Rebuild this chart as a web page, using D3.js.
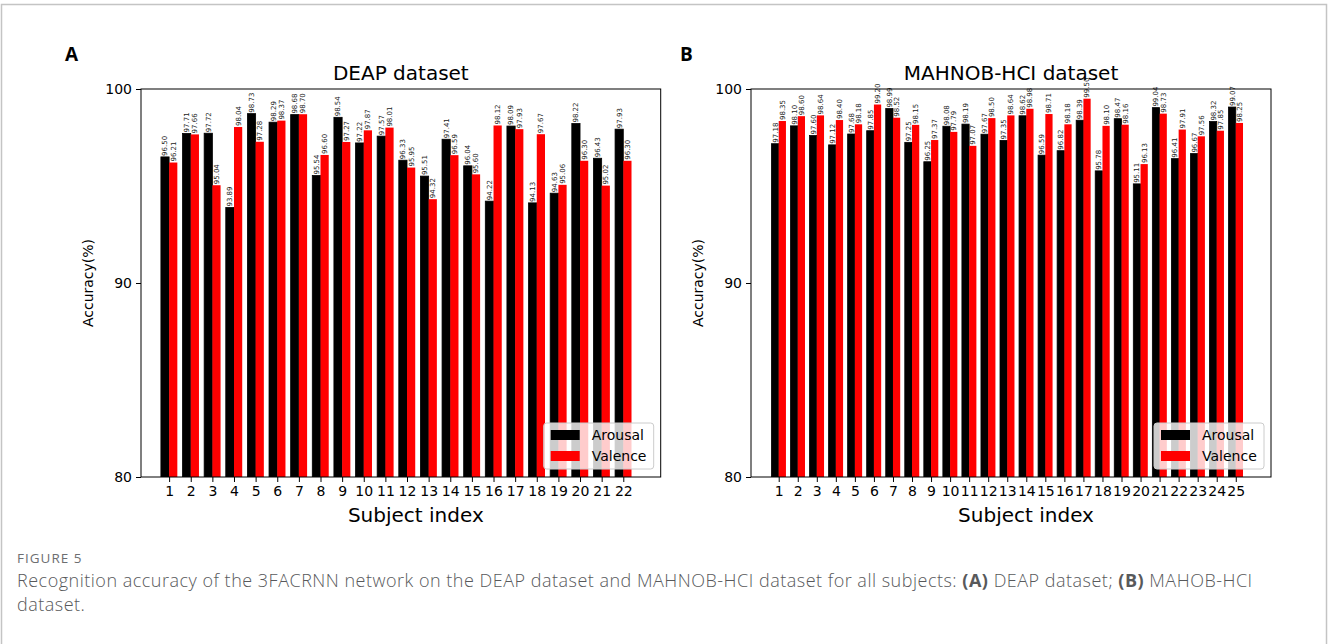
<!DOCTYPE html>
<html>
<head>
<meta charset="utf-8">
<script src="https://cdn.jsdelivr.net/npm/d3@7"></script>
<style>
  body { margin: 0; background: #fff; }
  svg { display: block; }
</style>
</head>
<body>
<div class="chart"></div>
<script>
// data
const deapSubjects = d3.range(1, 23);
const deapArousal = [96.50, 97.71, 97.72, 93.89, 98.73, 98.29, 98.68, 95.54, 98.54, 97.22, 97.57,
                     96.33, 95.51, 97.41, 96.04, 94.22, 98.09, 94.13, 94.63, 98.22, 96.43, 97.93];
const deapValence = [96.21, 97.66, 95.04, 98.04, 97.28, 98.37, 98.70, 96.60, 97.27, 97.87, 98.01,
                     95.95, 94.32, 96.59, 95.60, 98.12, 97.93, 97.67, 95.06, 96.30, 95.02, 96.30];

const mahnobSubjects = d3.range(1, 26);
const mahnobArousal = [97.18, 98.10, 97.60, 97.12, 97.68, 97.85, 98.99, 97.25, 96.25, 98.08, 98.19, 97.67, 97.35,
                       98.62, 96.59, 96.82, 98.39, 95.78, 98.47, 95.11, 99.04, 96.41, 96.67, 98.32, 99.07];
const mahnobValence = [98.35, 98.60, 98.64, 98.40, 98.18, 99.20, 98.52, 98.15, 97.37, 97.79, 97.07, 98.50, 98.64,
                       98.98, 98.71, 98.18, 99.50, 98.10, 98.16, 96.13, 98.73, 97.91, 97.56, 97.85, 98.25];

const yTicks = [80, 90, 100];
const seriesNames = ["Arousal", "Valence"];
const seriesColors = ["#000000", "#ff0000"];

// constants
const width = 1328;
const height = 644;
const font = "'DejaVu Sans', sans-serif";

const svg = d3.select(".chart").append("svg")
    .attr("width", width)
    .attr("height", height);

// outer frame
svg.append("rect")
    .attr("x", 1.5).attr("y", 4.5)
    .attr("width", width - 3).attr("height", height + 20)
    .attr("fill", "none")
    .attr("stroke", "#c4c4c4")
    .attr("stroke-width", 1.5);

function drawPanel(opts) {
    const g = svg.append("g");
    const left = opts.left, right = opts.right, top = 89, bottom = 477;

    const x = d3.scaleLinear().domain(opts.xDomain).range([left, right]);
    const y = d3.scaleLinear().domain([80, 100]).range([bottom, top]);
    const barW = 0.38;

    const clipId = "clip-" + opts.id;
    svg.append("clipPath").attr("id", clipId)
        .append("rect")
        .attr("x", left).attr("y", top)
        .attr("width", right - left).attr("height", bottom - top);

    const bars = g.append("g").attr("clip-path", "url(#" + clipId + ")");
    const series = [opts.arousal, opts.valence];

    series.forEach(function(vals, s) {
        bars.selectAll(".bar-" + s)
            .data(vals).enter()
            .append("rect")
            .attr("class", "bar-" + s)
            .attr("x", (d, i) => x(opts.subjects[i] + (s === 0 ? -barW : 0)))
            .attr("width", (d, i) => x(opts.subjects[i] + barW) - x(opts.subjects[i]))
            .attr("y", d => y(d))
            .attr("height", d => y(80) - y(d))
            .attr("fill", seriesColors[s])
            .attr("stroke", s === 0 ? "#000" : "none")
            .attr("stroke-width", 0.8);
    });

    // value labels
    series.forEach(function(vals, s) {
        g.selectAll(".lbl-" + s)
            .data(vals).enter()
            .append("text")
            .attr("transform", (d, i) => "translate(" + x(opts.subjects[i] + (s === 0 ? -barW / 2 : barW / 2)) + "," + (y(d) - 1) + ") rotate(-90)")
            .attr("dy", "0.35em")
            .attr("font-family", font)
            .attr("font-size", 7)
            .attr("fill", "#222")
            .text(d => d.toFixed(2));
    });

    // frame
    g.append("rect")
        .attr("x", left).attr("y", top)
        .attr("width", right - left).attr("height", bottom - top)
        .attr("fill", "none")
        .attr("stroke", "#000")
        .attr("stroke-width", 1);

    // x axis
    const xAxis = d3.axisBottom(x).tickValues(opts.subjects).tickFormat(d3.format("d")).tickSize(5).tickPadding(4);
    g.append("g")
        .attr("transform", "translate(0," + bottom + ")")
        .call(xAxis)
        .call(a => a.select(".domain").remove())
        .call(a => a.selectAll("text").attr("font-family", font).attr("font-size", 14).attr("fill", "#000"));

    // y axis
    const yAxis = d3.axisLeft(y).tickValues(yTicks).tickSize(5).tickPadding(4);
    g.append("g")
        .attr("transform", "translate(" + left + ",0)")
        .call(yAxis)
        .call(a => a.select(".domain").remove())
        .call(a => a.selectAll("text").attr("font-family", font).attr("font-size", 14).attr("fill", "#000"));

    // title
    g.append("text")
        .attr("x", (left + right) / 2).attr("y", 80)
        .attr("text-anchor", "middle")
        .attr("font-family", font).attr("font-size", 20)
        .text(opts.title);

    // axis labels
    g.append("text")
        .attr("x", (left + right) / 2 + 15).attr("y", 522)
        .attr("text-anchor", "middle")
        .attr("font-family", font).attr("font-size", 20)
        .text("Subject index");

    g.append("text")
        .attr("transform", "translate(" + (left - 48) + "," + ((top + bottom) / 2) + ") rotate(-90)")
        .attr("text-anchor", "middle")
        .attr("font-family", font).attr("font-size", 14)
        .text("Accuracy(%)");

    // panel letter
    g.append("text")
        .attr("x", opts.letterX).attr("y", 61)
        .attr("font-family", "'Open Sans', sans-serif").attr("font-size", 19).attr("font-weight", 700)
        .text(opts.letter);

    // legend
    const lg = g.append("g").attr("transform", "translate(" + (right - 117) + ",423)");
    lg.append("rect")
        .attr("width", 110).attr("height", 46).attr("rx", 3)
        .attr("fill", "#fff").attr("fill-opacity", 0.8)
        .attr("stroke", "#cccccc").attr("stroke-width", 1);
    seriesNames.forEach(function(name, i) {
        lg.append("rect")
            .attr("x", 7).attr("y", 7 + i * 21)
            .attr("width", 29).attr("height", 10)
            .attr("fill", seriesColors[i]);
        lg.append("text")
            .attr("x", 48).attr("y", 17 + i * 21)
            .attr("font-family", font).attr("font-size", 14)
            .text(name);
    });
}

drawPanel({
    id: "deap", title: "DEAP dataset", letter: "A", letterX: 65,
    subjects: deapSubjects, arousal: deapArousal, valence: deapValence,
    left: 141, right: 660.7, xDomain: [-0.3, 23.73]
});

drawPanel({
    id: "mahnob", title: "MAHNOB-HCI dataset", letter: "B", letterX: 680,
    subjects: mahnobSubjects, arousal: mahnobArousal, valence: mahnobValence,
    left: 751, right: 1271, xDomain: [-0.455, 26.85]
});

// caption
svg.append("text")
    .attr("x", 17).attr("y", 563)
    .attr("font-family", "'Open Sans', sans-serif").attr("font-size", 13.5).attr("font-weight", 400)
    .attr("letter-spacing", 1)
    .attr("fill", "#6d6e71")
    .text("FIGURE 5");

const cap = svg.append("text")
    .attr("font-family", "'Open Sans', sans-serif").attr("font-size", 18).attr("font-weight", 300)
    .attr("letter-spacing", 0.5)
    .attr("fill", "#58595b");
const capLine1 = cap.append("tspan").attr("x", 17).attr("y", 587);
capLine1.append("tspan").text("Recognition accuracy of the 3FACRNN network on the DEAP dataset and MAHNOB-HCI dataset for all subjects: ");
capLine1.append("tspan").attr("font-weight", 700).text("(A)");
capLine1.append("tspan").text(" DEAP dataset; ");
capLine1.append("tspan").attr("font-weight", 700).text("(B)");
capLine1.append("tspan").text(" MAHOB-HCI");
cap.append("tspan").attr("x", 17).attr("y", 611).text("dataset.");
</script>
</body>
</html>
